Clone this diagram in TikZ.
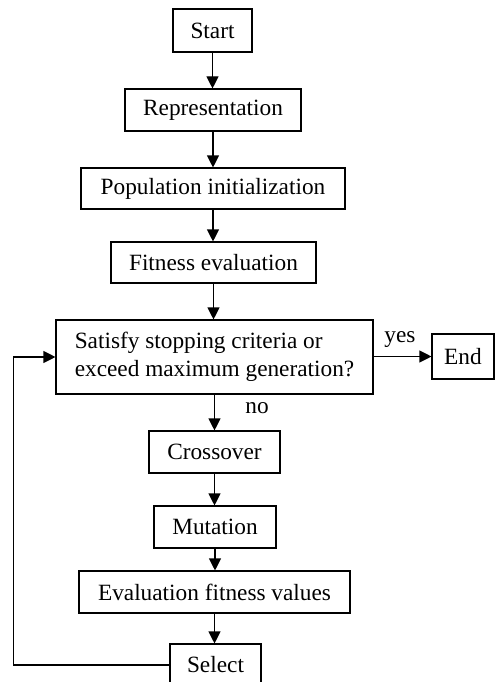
\documentclass[tikz,border=0pt]{standalone}
\usepackage{fontspec}
\setmainfont{Liberation Serif}
\usetikzlibrary{arrows.meta}
\begin{document}
\begin{tikzpicture}[x=1pt,y=-1pt,
  font=\fontsize{23.3}{28}\selectfont,
  box/.style={draw, line width=1.1pt, inner sep=0pt, anchor=center},
  flow/.style={draw, line width=1.1pt, -{Triangle[length=12pt,width=12pt]}},
  lbl/.style={inner sep=0pt, anchor=center}]
\useasboundingbox (0,0) rectangle (495,682);

% main chain of steps
\node[box, minimum width=79pt,  minimum height=43pt] (start) at (212.5,30.5) {Start};
\node[box, minimum width=176pt, minimum height=42pt] (repr)  at (213,110)    {Representation};
\node[box, minimum width=264pt, minimum height=41pt] (pop)   at (213,188.5)  {Population initialization};
\node[box, minimum width=205pt, minimum height=41pt] (fit)   at (213.5,262.5){Fitness evaluation};
\node[box, minimum width=317pt, minimum height=74pt, align=left] (cond) at (214.5,357)
  {Satisfy stopping criteria or\\exceed maximum generation?};
\node[box, minimum width=62pt,  minimum height=45pt] (end)   at (463,356.5)  {End};
\node[box, minimum width=131pt, minimum height=42pt] (cross) at (214.5,452)  {Crossover};
\node[box, minimum width=122pt, minimum height=42pt] (mut)   at (215,527)    {Mutation};
\node[box, minimum width=271pt, minimum height=42pt] (evalf) at (214.5,592)  {Evaluation fitness values};
\node[box, minimum width=91pt,  minimum height=42pt] (sel)   at (215.5,665)  {Select};

% downward connectors
\draw[flow] (start.south) -- (start.south |- repr.north);
\draw[flow] (repr.south)  -- (repr.south |- pop.north);
\draw[flow] (pop.south)   -- (pop.south |- fit.north);
\draw[flow] (fit.south)   -- (fit.south |- cond.north);
\draw[flow] (cross.north |- cond.south) -- (cross.north);
\draw[flow] (cross.south) -- (cross.south |- mut.north);
\draw[flow] (mut.south)   -- (mut.south |- evalf.north);
\draw[flow] (evalf.south) -- (evalf.south |- sel.north);

% branch labels
\draw[flow] (cond.east |- end.west) -- (end.west);
\node[lbl] (yes) at (400,340) {yes};
\node[lbl] (no)  at (257,408) {no};

% loop back from Select to the test
\coordinate (lb) at (13.5,665);
\coordinate (lt) at (13.5,357);
\draw[flow] (sel.west) -- (lb) -- (lt) -- (cond.west);
\end{tikzpicture}
\end{document}
